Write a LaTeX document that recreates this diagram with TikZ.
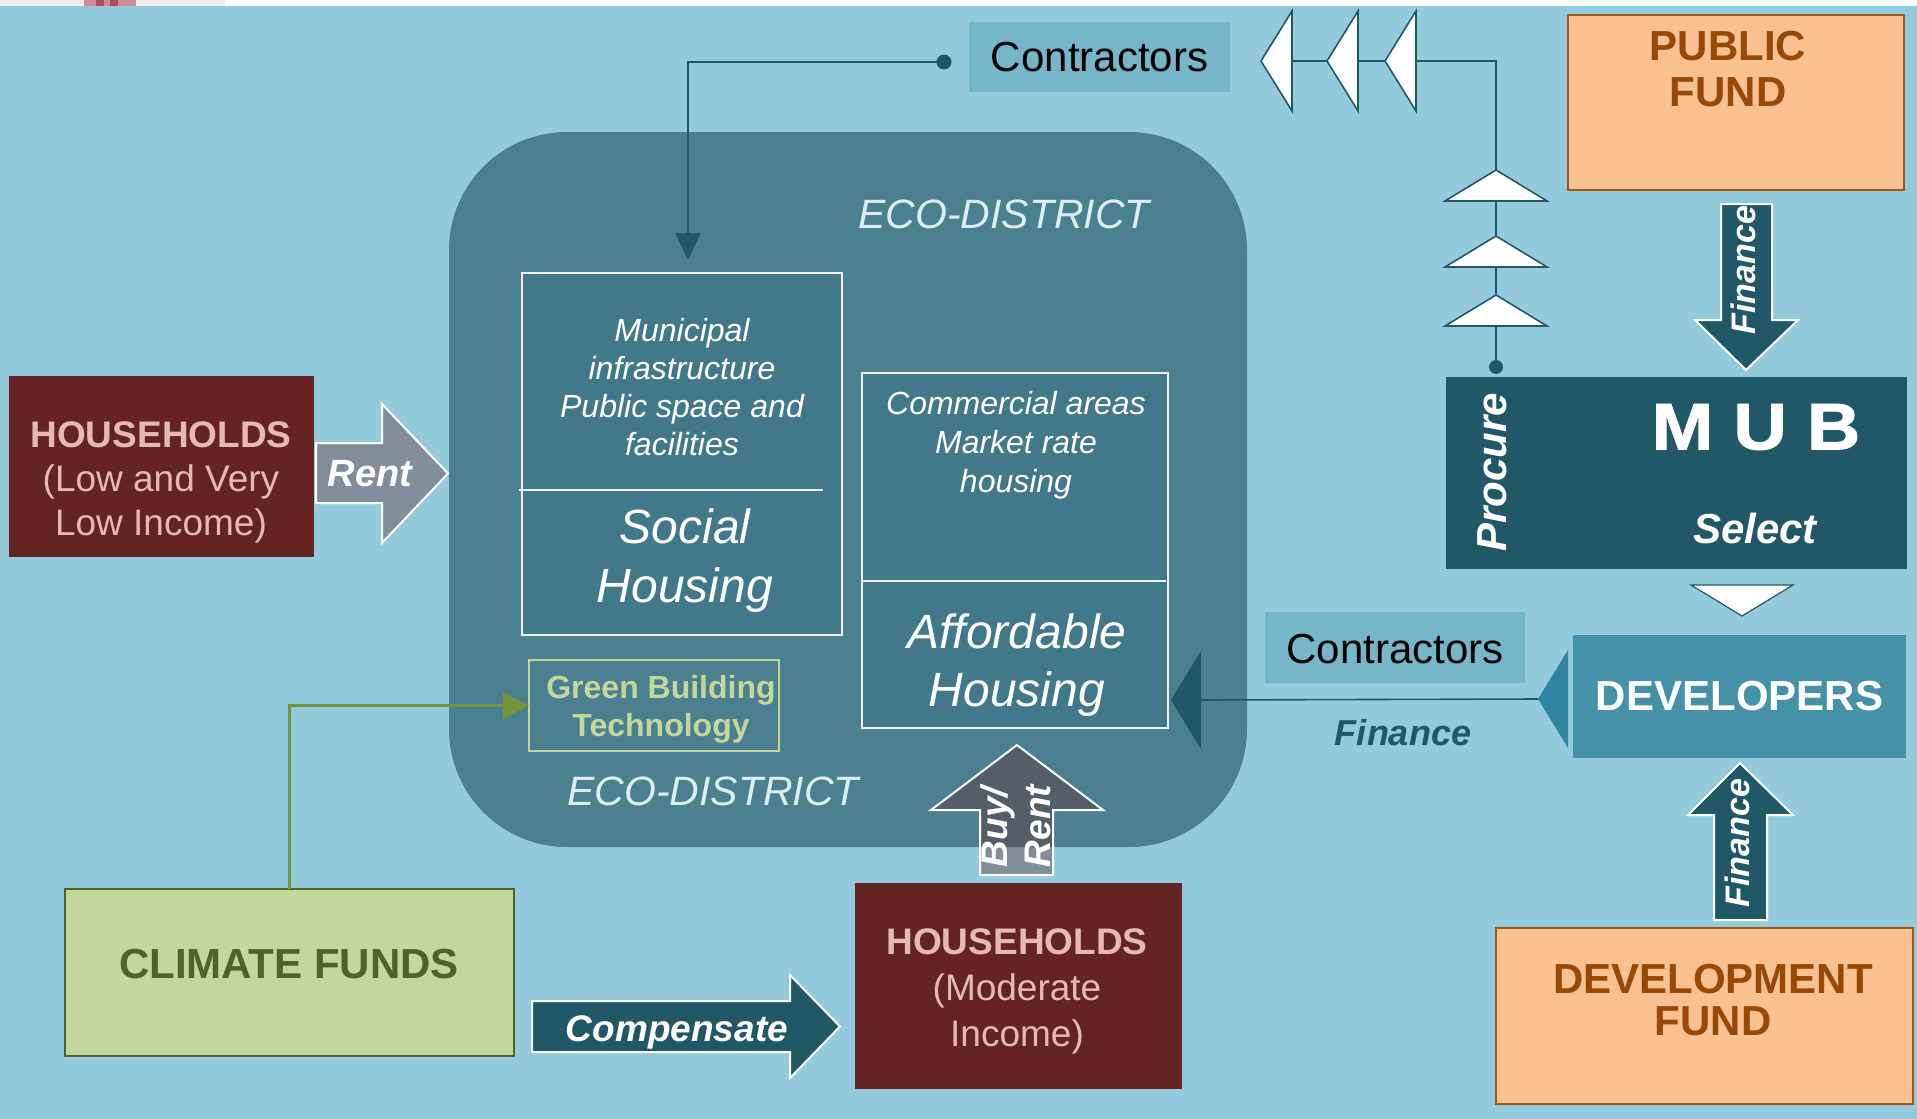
\documentclass[tikz,border=0pt]{standalone}
\usepackage{fontspec}
\setmainfont{Liberation Sans}
\newfontfamily\heavyfont[FakeBold=1.4]{Liberation Sans}
\usetikzlibrary{arrows.meta,calc}

\definecolor{skyback}{HTML}{93CBDC}
\definecolor{blossom}{HTML}{F4E9EC}
\definecolor{petal}{HTML}{B04A60}
\definecolor{ecofill}{HTML}{4A8090}
\definecolor{cellfill}{HTML}{42798A}
\definecolor{ecolabel}{HTML}{DCEEF3}
\definecolor{deepteal}{HTML}{215868}
\definecolor{contrfill}{HTML}{75B6C9}
\definecolor{devfill}{HTML}{4591A8}
\definecolor{devwedge}{HTML}{31869F}
\definecolor{wine}{HTML}{632423}
\definecolor{blush}{HTML}{E6B9B8}
\definecolor{peach}{HTML}{F9C090}
\definecolor{rust}{HTML}{A65414}
\definecolor{rusttext}{HTML}{984807}
\definecolor{sage}{HTML}{C3D69B}
\definecolor{darkolive}{HTML}{4F6228}
\definecolor{leaf}{HTML}{77933C}

\tikzset{
  panel/.style={rectangle, inner sep=0pt, outer sep=0pt},
  txt/.style={inner sep=0pt, outer sep=0pt, align=center},
  cell/.style={panel, fill=cellfill, draw=white!88!gray, line width=1.5pt},
  cellline/.style={draw=white!88!gray, line width=1.5pt},
  celltxt/.style={txt, text=white},
  blockarrow/.style={fill=deepteal, draw=white, line width=2pt, line join=miter},
  ghostarrow/.style={fill=wine, fill opacity=0.36, draw=white, line width=2pt, line join=miter},
  hollowtri/.style={fill=white, draw=deepteal, line width=1.6pt, line join=miter},
  link/.style={draw=deepteal, line width=2.8pt},
  thinlink/.style={draw=deepteal, line width=1.6pt},
  ecoword/.style={txt, text=ecolabel, font=\fontsize{41}{48}\selectfont\itshape},
  whitebi/.style={txt, text=white, font=\fontsize{#1}{#1}\selectfont\bfseries\itshape},
  leftwedge/.pic={\path[pic actions] (0,0) -- (31,-50) -- (31,50) -- cycle;},
  upwedge/.pic={\path[pic actions] (0,0) -- (-51,31) -- (51,31) -- cycle;},
}

\begin{document}
\begin{tikzpicture}[x=1pt,y=-1pt]
\useasboundingbox (0,0) rectangle (1917,1119);
% canvas
\fill[skyback] (0,0) rectangle (1917,1119);
\fill[white] (0,0) rectangle (1917,6);
\fill[blossom] (0,0) rectangle (225,6);
\fill[petal!60!blossom] (84,0) rectangle (136,6);
\fill[petal] (96,0) rectangle (104,6);
\fill[petal] (110,0) rectangle (118,6);

% ---------- eco-district ----------
\node[panel, fill=ecofill, rounded corners=118pt, minimum width=798pt, minimum height=715pt] (eco) at (848,489.5) {};
\node[ecoword] (ecotop) at (1004,214) {ECO-DISTRICT};
\node[ecoword] (ecobot) at (713,791) {ECO-DISTRICT};

\node[cell, minimum width=320pt, minimum height=362pt] (muni) at (682,454) {};
\draw[cellline] (519,490) -- (823,490);
\node[celltxt, font=\fontsize{32}{38}\selectfont\itshape] (munitxt) at (682,387) {Municipal\\infrastructure\\Public space and\\facilities};
\node[celltxt, font=\fontsize{48}{59}\selectfont\itshape] (social) at (685,561) {Social\\Housing};

\node[cell, minimum width=306pt, minimum height=355pt] (comm) at (1015,550.5) {};
\draw[cellline] (862,581) -- (1166,581);
\node[celltxt, font=\fontsize{32}{39}\selectfont\itshape] (commtxt) at (1016,445) {Commercial areas\\Market rate\\housing};
\node[celltxt, font=\fontsize{48}{58}\selectfont\itshape] (afford) at (1017,665) {Affordable\\Housing};

\node[panel, draw=sage, line width=1.5pt, minimum width=250pt, minimum height=91pt] (gbt) at (654,705.5) {};
\node[txt, text=sage, font=\fontsize{32}{38}\selectfont\bfseries] (gbttxt) at (661,709) {Green Building\\Technology};

% ---------- left: low-income households ----------
\node[panel, fill=wine, minimum width=305pt, minimum height=181pt] (hhlow) at (161.5,466.5) {};
\node[txt, text=blush, font=\fontsize{37}{44}\selectfont] (hhlowtxt) at (161,482) {\textbf{HOUSEHOLDS}\\(Low and Very\\Low Income)};
\path[ghostarrow] (316,443) -- (382,443) -- (382,404) -- (448,473.5) -- (382,543) -- (382,503) -- (316,503) -- cycle;
\node[whitebi=38] (rent) at (370,474) {Rent};

% ---------- bottom: climate funds, moderate households ----------
\node[panel, fill=sage, draw=darkolive, line width=2pt, minimum width=449pt, minimum height=167pt] (clim) at (289.5,972.5) {};
\node[txt, text=darkolive, font=\fontsize{42}{48}\selectfont\bfseries] (climtxt) at (289,964) {CLIMATE FUNDS};
\draw[leaf, line width=3.6pt, -{Triangle[length=26pt,width=26pt]}] (clim.north) |- (gbt.west);

\path[blockarrow] (532,1001) -- (790,1001) -- (790,975) -- (840,1026.5) -- (790,1078) -- (790,1052) -- (532,1052) -- cycle;
\node[whitebi=37] (comp) at (677,1032) {Compensate};

\node[panel, fill=wine, minimum width=327pt, minimum height=206pt] (hhmod) at (1018.5,986) {};
\node[txt, text=blush, font=\fontsize{37}{46}\selectfont] (hhmodtxt) at (1017,991) {\textbf{HOUSEHOLDS}\\(Moderate\\Income)};

\path[ghostarrow] (980,875) -- (980,810) -- (931,810) -- (1017,745) -- (1103,810) -- (1053,810) -- (1053,875) -- cycle;
\node[whitebi=37, align=left, rotate=90, font=\fontsize{37}{43}\selectfont\bfseries\itshape] (buyrent) at (1016,826) {Buy/\\Rent};

% ---------- top: contractors feeding the municipal works ----------
\node[panel, fill=contrfill, minimum width=261pt, minimum height=70pt, font=\fontsize{42}{48}\selectfont] (ct1) at (1099.5,57) {Contractors};
\coordinate (ctdot) at ($(ct1.west)+(-25,5)$);
\draw[link, -{Triangle[length=27pt,width=25pt]}] (ctdot) -| ($(muni.north)+(6,-13)$);
\fill[deepteal] (ctdot) circle[radius=7.5pt];

% ---------- right: funds, MUB, developers ----------
\node[panel, fill=peach, draw=rust, line width=2pt, minimum width=336pt, minimum height=175pt] (pub) at (1736,102.5) {};
\node[txt, text=rusttext, font=\fontsize{42}{46}\selectfont\bfseries] (pubtxt) at (1728,69) {PUBLIC\\FUND};

\node[panel, fill=deepteal, minimum width=461pt, minimum height=192pt] (mub) at (1676.5,473) {};
\node[txt, text=white, font=\fontsize{66}{70}\heavyfont\bfseries] (mubname) at (1756,427) {\scalebox{1.12}[1]{M\hspace{18pt}U\hspace{18pt}B}};
\node[whitebi=42] (select) at (1755,528) {Select};
\node[whitebi=42, rotate=90] (procure) at (1492,472) {Procure};

\path[blockarrow] (1721,204) -- (1721,320) -- (1695,320) -- (1746,370) -- (1798,320) -- (1772,320) -- (1772,204) -- cycle;
\node[whitebi=34, rotate=90] (fintop) at (1743,270) {Finance};

% procurement chain from MUB to contractors
\coordinate (mubdot) at ($(mub.north west)+(50,-10)$);
\coordinate (chainend) at ($(ct1.east)+(31,4)$);
\draw[link] (mubdot) |- (chainend);
\fill[deepteal] (mubdot) circle[radius=7pt];
\pic[hollowtri] at (1261,61) {leftwedge};
\pic[hollowtri] at (1327,61) {leftwedge};
\pic[hollowtri] at (1385,61) {leftwedge};
\pic[hollowtri] at (1496,170) {upwedge};
\pic[hollowtri] at (1496,236) {upwedge};
\pic[hollowtri] at (1496,295) {upwedge};

% MUB selects developers
\path[hollowtri, line width=1.2pt] (1691,585) -- (1793,585) -- (1742,616) -- cycle;

\node[panel, fill=devfill, minimum width=333pt, minimum height=123pt, text=white, font=\fontsize{42}{48}\selectfont\bfseries] (dev) at (1739.5,696.5) {DEVELOPERS};
\node[panel, fill=contrfill, minimum width=260pt, minimum height=71pt] (ct2) at (1395,647.5) {};
\node[txt, font=\fontsize{42}{48}\selectfont] (ct2txt) at (1395,649.5) {Contractors};

% developers finance the affordable housing
\coordinate (devtip) at ($(dev.west)+(-35,2.5)$);
\coordinate (afftip) at ($(comm.south east)+(3,-28)$);
\draw[thinlink] (devtip) -- ($(afftip)+(30,0)$);
\fill[devwedge] (devtip) -- ++(30,-49) -- ++(0,98) -- cycle;
\fill[deepteal] (afftip) -- ++(30,-49) -- ++(0,98) -- cycle;
\node[txt, text=deepteal, font=\fontsize{36}{40}\selectfont\bfseries\itshape] (finlabel) at (1403,733) {Finance};

\node[panel, fill=peach, draw=rust, line width=2pt, minimum width=417pt, minimum height=176pt] (dfund) at (1704.5,1016) {};
\node[txt, text=rusttext, font=\fontsize{42}{42}\selectfont\bfseries] (dfundtxt) at (1713,1000) {DEVELOPMENT\\FUND};

\path[blockarrow] (1714,920) -- (1714,815) -- (1688,815) -- (1740,763) -- (1793,815) -- (1767,815) -- (1767,920) -- cycle;
\node[whitebi=34, rotate=90] (finbot) at (1737,843) {Finance};
\end{tikzpicture}
\end{document}
